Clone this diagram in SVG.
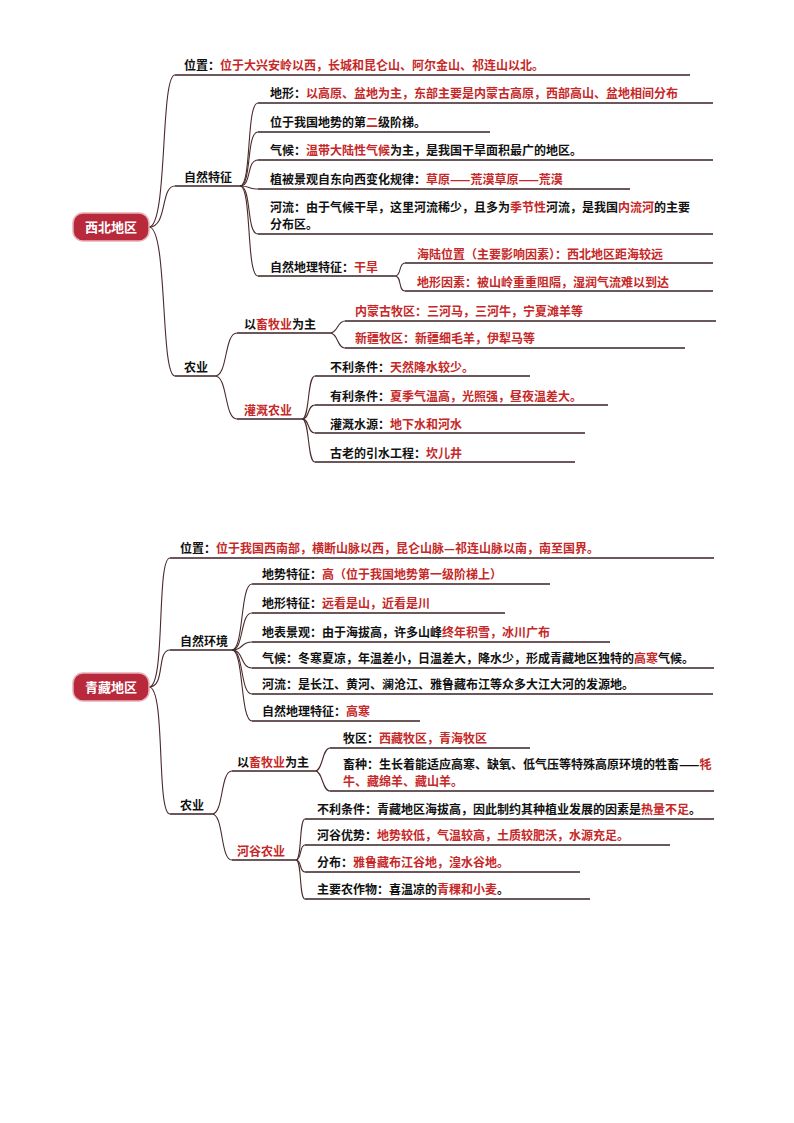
<svg xmlns="http://www.w3.org/2000/svg" width="794" height="1123" viewBox="0 0 794 1123">
<style>
text{font-family:"Noto Sans CJK SC","Noto Sans",sans-serif;font-size:12px;fill:#111;font-weight:600}
.r{fill:#c62828}
.w{fill:#fff;font-size:13px;font-weight:700}
.ln{stroke:#3a2224;stroke-width:1.4;fill:none}
.cv{stroke:#4a2a2c;stroke-width:1.1;fill:none}
.root{fill:#b8293c;stroke:#e8b0b8;stroke-width:1.5}
</style>
<rect width="794" height="1123" fill="#fff"/>
<g id="connectors">
<!-- top map -->
<path class="cv" d="M149 227 C168 227 160 75 175 75"/>
<path class="cv" d="M149 227 C168 227 160 186 175 186"/>
<path class="cv" d="M149 227 C168 227 160 376 175 376"/>
<path class="cv" d="M240 186 C252 186 246 103 258 103"/>
<path class="cv" d="M240 186 C252 186 246 132 258 132"/>
<path class="cv" d="M240 186 C252 186 246 160 258 160"/>
<path class="cv" d="M240 186 C252 186 246 189 258 189"/>
<path class="cv" d="M240 186 C252 186 246 234 258 234"/>
<path class="cv" d="M240 186 C252 186 246 276 258 276"/>
<path class="cv" d="M395 276 C402 276 398 263 405 263"/>
<path class="cv" d="M395 276 C402 276 398 291 405 291"/>
<path class="cv" d="M215 376 C228 376 224 333 237 333"/>
<path class="cv" d="M215 376 C228 376 224 419 237 419"/>
<path class="cv" d="M330 333 C338 333 337 321 345 321"/>
<path class="cv" d="M330 333 C338 333 337 348 345 348"/>
<path class="cv" d="M302 419 C310 419 307 376 315 376"/>
<path class="cv" d="M302 419 C310 419 307 405 315 405"/>
<path class="cv" d="M302 419 C310 419 307 433 315 433"/>
<path class="cv" d="M302 419 C310 419 307 462 315 462"/>
<!-- lines -->
<path class="ln" d="M175 75H690M175 186H240M258 103H713M258 132H490M258 160H713M258 189H630M258 234H713M258 276H395M405 263H713M405 291H713M175 376H215M237 333H330M345 321H716M345 348H685M237 419H302M315 376H530M315 405H608M315 433H585M315 462H575"/>
<!-- bottom map -->
<path class="cv" d="M149 687 C166 687 156 558 170 558"/>
<path class="cv" d="M149 687 C166 687 156 650 170 650"/>
<path class="cv" d="M149 687 C166 687 156 814 170 814"/>
<path class="cv" d="M232 650 C244 650 240 584 252 584"/>
<path class="cv" d="M232 650 C244 650 240 613 252 613"/>
<path class="cv" d="M232 650 C244 650 240 642 252 642"/>
<path class="cv" d="M232 650 C244 650 240 668 252 668"/>
<path class="cv" d="M232 650 C244 650 240 694 252 694"/>
<path class="cv" d="M232 650 C244 650 240 721 252 721"/>
<path class="cv" d="M212 814 C224 814 220 771 232 771"/>
<path class="cv" d="M212 814 C224 814 220 860 232 860"/>
<path class="cv" d="M315 771 C323 771 322 748 330 748"/>
<path class="cv" d="M315 771 C323 771 322 791 330 791"/>
<path class="cv" d="M296 860 C302 860 299 819 305 819"/>
<path class="cv" d="M296 860 C302 860 299 845 305 845"/>
<path class="cv" d="M296 860 C302 860 299 872 305 872"/>
<path class="cv" d="M296 860 C302 860 299 899 305 899"/>
<path class="ln" d="M170 558H714M170 650H232M252 584H550M252 613H505M252 642H610M252 668H714M252 694H713M252 721H420M170 814H212M232 771H315M330 748H530M330 791H714M232 860H296M305 819H714M305 845H670M305 872H580M305 899H590"/>
</g>
<g id="root1"><rect class="root" x="73" y="213" width="76" height="28" rx="10"/><text class="w" x="111" y="232" text-anchor="middle">西北地区</text></g>
<g id="n-pos1"><text x="184" y="70">位置：<tspan class="r">位于大兴安岭以西，长城和昆仑山、阿尔金山、祁连山以北。</tspan></text></g>
<g id="n-nat1"><text x="184" y="182">自然特征</text></g>
<g id="n-dx"><text x="270" y="98">地形：<tspan class="r">以高原、盆地为主，东部主要是内蒙古高原，西部高山、盆地相间分布</tspan></text></g>
<g id="n-jt"><text x="270" y="127">位于我国地势的第<tspan class="r">二</tspan>级阶梯。</text></g>
<g id="n-qh"><text x="270" y="155">气候：<tspan class="r">温带大陆性气候</tspan>为主，是我国干旱面积最广的地区。</text></g>
<g id="n-zb"><text x="270" y="184">植被景观自东向西变化规律：<tspan class="r">草原——荒漠草原——荒漠</tspan></text></g>
<g id="n-hl"><text x="270" y="212">河流：由于气候干旱，这里河流稀少，且多为<tspan class="r">季节性</tspan>河流，是我国<tspan class="r">内流河</tspan>的主要</text><text x="270" y="229">分布区。</text></g>
<g id="n-zr"><text x="270" y="272">自然地理特征：<tspan class="r">干旱</tspan></text></g>
<g id="n-hlwz"><text class="r" x="417" y="259">海陆位置（主要影响因素）：西北地区距海较远</text></g>
<g id="n-dxys"><text class="r" x="417" y="287">地形因素：被山岭重重阻隔，湿润气流难以到达</text></g>
<g id="n-ny1"><text x="184" y="372">农业</text></g>
<g id="n-xm1"><text x="244" y="329">以<tspan class="r">畜牧业</tspan>为主</text></g>
<g id="n-nmg"><text class="r" x="355" y="316">内蒙古牧区：三河马，三河牛，宁夏滩羊等</text></g>
<g id="n-xj"><text class="r" x="355" y="343">新疆牧区：新疆细毛羊，伊犁马等</text></g>
<g id="n-gg"><text class="r" x="244" y="415">灌溉农业</text></g>
<g id="n-bl1"><text x="330" y="372">不利条件：<tspan class="r">天然降水较少。</tspan></text></g>
<g id="n-yl1"><text x="330" y="401">有利条件：<tspan class="r">夏季气温高，光照强，昼夜温差大。</tspan></text></g>
<g id="n-ggsy"><text x="330" y="429">灌溉水源：<tspan class="r">地下水和河水</tspan></text></g>
<g id="n-ks"><text x="330" y="458">古老的引水工程：<tspan class="r">坎儿井</tspan></text></g>

<g id="root2"><rect class="root" x="73" y="673" width="76" height="28" rx="10"/><text class="w" x="111" y="692" text-anchor="middle">青藏地区</text></g>
<g id="n-pos2"><text x="180" y="553">位置：<tspan class="r">位于我国西南部，横断山脉以西，昆仑山脉—祁连山脉以南，南至国界。</tspan></text></g>
<g id="n-nat2"><text x="180" y="646">自然环境</text></g>
<g id="n-ds"><text x="262" y="579">地势特征：<tspan class="r">高（位于我国地势第一级阶梯上）</tspan></text></g>
<g id="n-dx2"><text x="262" y="608">地形特征：<tspan class="r">远看是山，近看是川</tspan></text></g>
<g id="n-db"><text x="262" y="637">地表景观：由于海拔高，许多山峰<tspan class="r">终年积雪，冰川广布</tspan></text></g>
<g id="n-qh2"><text x="262" y="663">气候：冬寒夏凉，年温差小，日温差大，降水少，形成青藏地区独特的<tspan class="r">高寒</tspan>气候。</text></g>
<g id="n-hl2"><text x="262" y="689">河流：是长江、黄河、澜沧江、雅鲁藏布江等众多大江大河的发源地。</text></g>
<g id="n-zr2"><text x="262" y="716">自然地理特征：<tspan class="r">高寒</tspan></text></g>
<g id="n-ny2"><text x="180" y="810">农业</text></g>
<g id="n-xm2"><text x="237" y="767">以<tspan class="r">畜牧业</tspan>为主</text></g>
<g id="n-mq"><text x="343" y="743">牧区：<tspan class="r">西藏牧区，青海牧区</tspan></text></g>
<g id="n-xz"><text x="343" y="769">畜种：生长着能适应高寒、缺氧、低气压等特殊高原环境的牲畜——<tspan class="r">牦</tspan></text><text class="r" x="343" y="786">牛、藏绵羊、藏山羊。</text></g>
<g id="n-hg"><text class="r" x="237" y="856">河谷农业</text></g>
<g id="n-bl2"><text x="317" y="814">不利条件：青藏地区海拔高，因此制约其种植业发展的因素是<tspan class="r">热量不足</tspan>。</text></g>
<g id="n-hgys"><text x="317" y="840">河谷优势：<tspan class="r">地势较低，气温较高，土质较肥沃，水源充足。</tspan></text></g>
<g id="n-fb"><text x="317" y="867">分布：<tspan class="r">雅鲁藏布江谷地，湟水谷地。</tspan></text></g>
<g id="n-zw"><text x="317" y="894">主要农作物：喜温凉的<tspan class="r">青稞和小麦</tspan>。</text></g>
</svg>
